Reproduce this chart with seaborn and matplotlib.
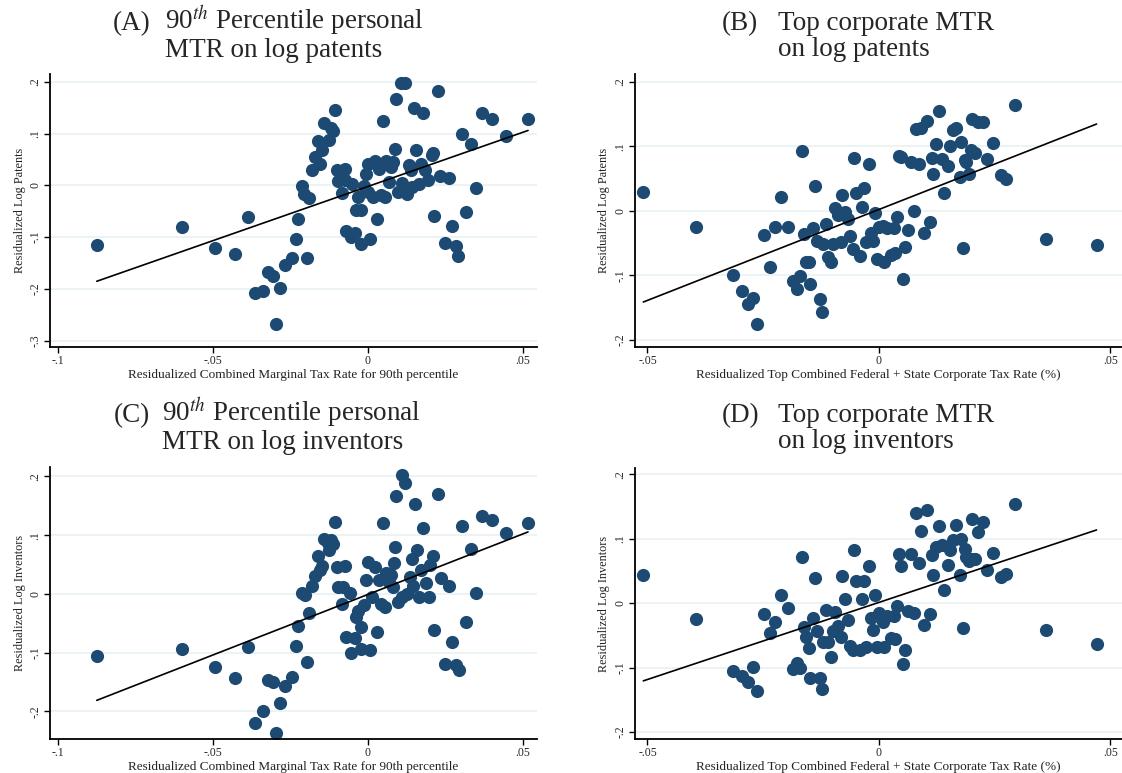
import numpy as np
import pandas as pd
import matplotlib
matplotlib.use("Agg")
import matplotlib.pyplot as plt
import seaborn as sns

# === DATA ===
# (A) 90th pct personal MTR vs log patents
a_x = [-0.0875, -0.060, -0.0495, -0.043, -0.0388, -0.0363, -0.0337, -0.0321, -0.0305, -0.0296,
       -0.0282, -0.0266, -0.0246, -0.0233, -0.0224, -0.0196, -0.0214, -0.0206, -0.0189, -0.0181,
       -0.0169, -0.0162, -0.0154, -0.0147, -0.0140, -0.0127, -0.0120, -0.0111, -0.0106, -0.0099,
       -0.0095, -0.0083, -0.0075, -0.0074, -0.0069, -0.0054, -0.0043, -0.0051, -0.0037, -0.0023,
       -0.0032, -0.0021, -0.0012, -0.0007, 0.0, 0.0007, 0.0002, 0.0017, 0.0023, 0.0030,
       0.0037, 0.0044, 0.0048, 0.0055, 0.0060, 0.0069, 0.0075, 0.0081, 0.0088, 0.0092,
       0.0097, 0.0106, 0.0120, 0.0111, 0.0125, 0.0133, 0.0139, 0.0144, 0.0150, 0.0157,
       0.0164, 0.0171, 0.0179, 0.0185, 0.0194, 0.0206, 0.0211, 0.0215, 0.0225, 0.0233,
       0.0248, 0.0261, 0.0271, 0.0283, 0.0291, 0.0305, 0.0316, 0.0333, 0.0350, 0.0370,
       0.0400, 0.0446, 0.0517]
a_y = [-0.116, -0.081, -0.121, -0.132, -0.061, -0.208, -0.203, -0.167, -0.175, -0.268,
       -0.198, -0.153, -0.140, -0.103, -0.065, -0.141, -0.002, -0.016, -0.025, 0.029,
       0.054, 0.086, 0.041, 0.069, 0.121, 0.088, 0.110, 0.105, 0.146, 0.030,
       0.008, -0.014, 0.032, 0.010, -0.088, -0.100, -0.092, 0.003, -0.048, -0.048,
       -0.023, -0.114, -0.002, 0.021, -0.013, -0.103, 0.042, -0.023, 0.048, -0.065,
       0.032, -0.019, 0.125, -0.023, 0.048, 0.006, 0.035, 0.045, 0.071, 0.166,
       -0.013, 0.198, 0.198, 0.005, -0.016, 0.039, 0.029, -0.003, 0.150, 0.069,
       0.003, 0.042, 0.139, 0.029, 0.010, 0.058, 0.063, -0.060, 0.182, 0.019,
       -0.112, 0.014, -0.079, -0.117, -0.137, 0.100, -0.052, 0.079, -0.006, 0.140,
       0.128, 0.095, 0.128]

# (B) top corporate MTR vs log patents
b_x = [-0.0509, -0.0395, -0.0316, -0.0296, -0.0283, -0.0273, -0.0263, -0.0249, -0.0236, -0.0224,
       -0.0211, -0.0196, -0.0185, -0.0176, -0.0171, -0.0167, -0.0162, -0.0158, -0.0152, -0.0148,
       -0.0143, -0.0138, -0.0134, -0.0127, -0.0122, -0.0120, -0.0115, -0.0110, -0.0104, -0.0100,
       -0.0095, -0.0089, -0.0083, -0.0080, -0.0073, -0.0067, -0.0062, -0.0056, -0.0053, -0.0049,
       -0.0040, -0.0036, -0.0032, -0.0029, -0.0022, -0.0018, -0.0013, -0.0008, -0.0004, 0.0,
       0.0008, 0.0010, 0.0018, 0.0027, 0.0032, 0.0035, 0.0039, 0.0044, 0.0048, 0.0052,
       0.0056, 0.0062, 0.0069, 0.0075, 0.0081, 0.0090, 0.0086, 0.0097, 0.0104, 0.0110,
       0.0114, 0.0117, 0.0124, 0.0129, 0.0137, 0.0141, 0.0149, 0.0154, 0.0160, 0.0166,
       0.0174, 0.0178, 0.0181, 0.0185, 0.0189, 0.0195, 0.0198, 0.0202, 0.0208, 0.0214,
       0.0224, 0.0233, 0.0246, 0.0263, 0.0274, 0.0293, 0.0361, 0.0470]
b_y = [0.0295, -0.0248, -0.0999, -0.124, -0.145, -0.135, -0.175, -0.037, -0.087, -0.025,
       0.022, -0.025, -0.108, -0.121, -0.101, 0.093, -0.036, -0.080, -0.079, -0.114,
       -0.026, 0.039, -0.046, -0.136, -0.157, -0.051, -0.020, -0.071, -0.079, -0.051,
       0.004, -0.006, -0.048, 0.025, -0.002, -0.012, -0.039, -0.059, 0.082, 0.027,
       -0.070, 0.006, 0.036, -0.048, 0.072, -0.034, -0.047, -0.003, -0.074, -0.025,
       -0.024, -0.079, -0.027, -0.068, -0.026, -0.066, -0.009, 0.085, 0.083, -0.106,
       -0.056, -0.029, 0.076, 0.000, 0.127, 0.129, 0.073, -0.034, 0.139, -0.017,
       0.082, 0.057, 0.103, 0.155, 0.080, 0.027, 0.070, 0.100, 0.125, 0.128,
       0.053, 0.107, -0.058, 0.079, 0.075, 0.057, 0.094, 0.142, 0.089, 0.137,
       0.138, 0.081, 0.105, 0.055, 0.049, 0.164, -0.043, -0.053]

# (C) 90th pct personal MTR vs log inventors
c_x = [-0.0875, -0.060, -0.0495, -0.043, -0.0388, -0.0363, -0.0337, -0.0321, -0.0305, -0.0296,
       -0.0282, -0.0266, -0.0246, -0.0233, -0.0224, -0.0196, -0.0214, -0.0202, -0.0189, -0.0181,
       -0.0169, -0.0162, -0.0156, -0.0147, -0.0140, -0.0129, -0.0120, -0.0125, -0.0111, -0.0106,
       -0.0099, -0.0095, -0.0083, -0.0074, -0.0079, -0.0069, -0.0054, -0.0043, -0.0058, -0.0037,
       -0.0032, -0.0023, -0.0021, -0.0012, -0.0007, 0.0002, 0.0007, 0.0012, 0.0023, 0.0030,
       0.0035, 0.0044, 0.0048, 0.0055, 0.0060, 0.0069, 0.0075, 0.0081, 0.0085, 0.0088,
       0.0092, 0.0097, 0.0110, 0.0119, 0.0111, 0.0127, 0.0136, 0.0141, 0.0147, 0.0152,
       0.0159, 0.0164, 0.0173, 0.0179, 0.0187, 0.0196, 0.0202, 0.0210, 0.0215, 0.0225,
       0.0237, 0.0248, 0.0261, 0.0271, 0.0283, 0.0293, 0.0305, 0.0316, 0.0333, 0.0350,
       0.0370, 0.0400, 0.0446, 0.0517]
c_y = [-0.105, -0.094, -0.124, -0.144, -0.090, -0.220, -0.199, -0.146, -0.150, -0.236,
       -0.186, -0.157, -0.141, -0.089, -0.054, -0.116, 0.002, -0.002, -0.032, 0.014,
       0.031, 0.064, 0.040, 0.047, 0.094, 0.086, 0.092, 0.074, 0.085, 0.122,
       0.045, 0.012, -0.017, 0.048, 0.011, -0.074, -0.101, -0.075, 0.002, -0.040,
       -0.029, -0.057, -0.094, -0.019, 0.024, 0.055, -0.095, -0.005, 0.045, -0.065,
       0.024, -0.017, 0.120, -0.023, 0.035, 0.021, 0.032, 0.011, 0.053, 0.079,
       0.166, -0.013, 0.203, 0.188, -0.005, 0.000, 0.028, 0.060, 0.014, 0.153,
       0.075, -0.005, 0.041, 0.112, 0.018, -0.005, 0.049, 0.064, -0.061, 0.170,
       0.027, -0.120, 0.014, -0.082, -0.121, -0.129, 0.116, -0.047, 0.077, 0.001,
       0.133, 0.126, 0.104, 0.120]

# (D) top corporate MTR vs log inventors
d_x = b_x
d_y = [0.043, -0.024, -0.105, -0.113, -0.123, -0.099, -0.136, -0.017, -0.047, -0.029,
       0.012, -0.007, -0.103, -0.093, -0.100, 0.071, -0.037, -0.053, -0.069, -0.117,
       -0.023, 0.039, -0.043, -0.116, -0.133, -0.061, -0.010, -0.061, -0.084, -0.043,
       -0.013, -0.036, -0.052, 0.042, 0.006, -0.026, -0.067, -0.072, 0.082, 0.034,
       -0.072, 0.007, 0.035, -0.068, 0.057, -0.023, -0.041, 0.012, -0.068, -0.016,
       -0.029, -0.068, -0.020, -0.054, -0.020, -0.056, -0.005, 0.077, 0.057, -0.094,
       -0.072, -0.012, 0.077, -0.016, 0.140, 0.112, 0.063, -0.034, 0.144, -0.017,
       0.075, 0.043, 0.087, 0.120, 0.090, 0.020, 0.060, 0.082, 0.098, 0.121,
       0.043, 0.099, -0.038, 0.084, 0.072, 0.065, 0.069, 0.131, 0.068, 0.110,
       0.126, 0.051, 0.078, 0.040, 0.045, 0.154, -0.041, -0.064]

pers_xticks = [-0.1, -0.05, 0, 0.05]
pers_xticklabels = ["-.1", "-.05", "0", ".05"]
corp_xticks = [-0.05, 0, 0.05]
corp_xticklabels = ["-.05", "0", ".05"]
a_yticks = [-0.3, -0.2, -0.1, 0, 0.1, 0.2]
a_yticklabels = ["-.3", "-.2", "-.1", "0", ".1", ".2"]
yticks_5 = [-0.2, -0.1, 0, 0.1, 0.2]
yticklabels_5 = ["-.2", "-.1", "0", ".1", ".2"]

pers_xlabel = "Residualized Combined Marginal Tax Rate for 90th percentile"
corp_xlabel = "Residualized Top Combined Federal + State Corporate Tax Rate (%)"

panels = [
    dict(tag="(A)", lines=["90$^{th}$ Percentile personal", "MTR on log patents"],
         x=a_x, y=a_y, xt=pers_xticks, xtl=pers_xticklabels, yt=a_yticks, ytl=a_yticklabels,
         xlabel=pers_xlabel, ylabel="Residualized Log Patents"),
    dict(tag="(B)", lines=["Top corporate MTR", "on log patents"],
         x=b_x, y=b_y, xt=corp_xticks, xtl=corp_xticklabels, yt=yticks_5, ytl=yticklabels_5,
         xlabel=corp_xlabel, ylabel="Residualized Log Patents"),
    dict(tag="(C)", lines=["90$^{th}$ Percentile personal", "MTR on log inventors"],
         x=c_x, y=c_y, xt=pers_xticks, xtl=pers_xticklabels, yt=yticks_5, ytl=yticklabels_5,
         xlabel=pers_xlabel, ylabel="Residualized Log Inventors"),
    dict(tag="(D)", lines=["Top corporate MTR", "on log inventors"],
         x=d_x, y=d_y, xt=corp_xticks, xtl=corp_xticklabels, yt=yticks_5, ytl=yticklabels_5,
         xlabel=corp_xlabel, ylabel="Residualized Log Inventors"),
]

# === LAYOUT (pixels in a 1122x773 figure) ===
W, H = 1122, 773
# left, right, top, bottom of each axes box
boxes = [(50, 537, 74, 347), (635, 1122, 74, 347), (50, 537, 467, 739), (635, 1122, 468, 739)]
limits = [((-0.1026, 0.0546), (-0.312, 0.215)),
          ((-0.0527, 0.0525), (-0.211, 0.212)),
          ((-0.1026, 0.0546), (-0.247, 0.216)),
          ((-0.0527, 0.0525), (-0.211, 0.210))]
# tag x, text-block x, baseline of line 1, baseline of line 2
title_pos = [(113, 165, 30, 57), (722, 778, 30, 56), (114, 162, 422, 449), (722, 778, 422, 448)]
TITLE_FS = 19.5

DOT = "#1c4a72"
GRID = "#e9f2f4"

sns.set_style("white")
plt.rcParams["font.family"] = ["Liberation Serif", "DejaVu Serif"]
plt.rcParams["mathtext.fontset"] = "stix"

# slightly wide dots, as in the source image
t = np.linspace(0, 2 * np.pi, 40)
ellipse = np.column_stack([1.2 * np.cos(t), np.sin(t)])

fig = plt.figure(figsize=(W / 100, H / 100), dpi=100)

for p, (l, r, tp, bt), (xl, yl), (tx, bx, y1, y2) in zip(panels, boxes, limits, title_pos):
    ax = fig.add_axes([l / W, 1 - bt / H, (r - l) / W, (bt - tp) / H])
    df = pd.DataFrame({"x": p["x"], "y": p["y"]})
    for yv in p["yt"]:
        ax.axhline(yv, color=GRID, lw=1.3, zorder=0)
    sns.regplot(data=df, x="x", y="y", ax=ax, ci=None, truncate=True,
                scatter_kws=dict(s=90, color=DOT, marker=ellipse, linewidths=0, alpha=1),
                line_kws=dict(color="black", lw=1.2))
    ax.set_xlim(xl)
    ax.set_ylim(yl)
    ax.set_xticks(p["xt"])
    ax.set_xticklabels(p["xtl"])
    ax.set_yticks(p["yt"])
    ax.set_yticklabels(p["ytl"], rotation=90, va="center")
    ax.tick_params(axis="both", direction="out", length=4, width=1, color="black",
                   labelsize=8.5, pad=2, left=True, bottom=True)
    ax.set_xlabel(p["xlabel"], fontsize=9.5, labelpad=1, color="#222222")
    ax.set_ylabel(p["ylabel"], fontsize=8.8, labelpad=3, color="#222222")
    sns.despine(ax=ax)
    for s in ["left", "bottom"]:
        ax.spines[s].set_linewidth(1.3)
        ax.spines[s].set_color("black")

    fig.text(tx / W, 1 - y1 / H, p["tag"], fontsize=TITLE_FS, va="baseline", ha="left")
    fig.text(bx / W, 1 - y1 / H, p["lines"][0], fontsize=TITLE_FS, va="baseline", ha="left")
    fig.text(bx / W, 1 - y2 / H, p["lines"][1], fontsize=TITLE_FS, va="baseline", ha="left")

fig.savefig("out.png", dpi=100)
